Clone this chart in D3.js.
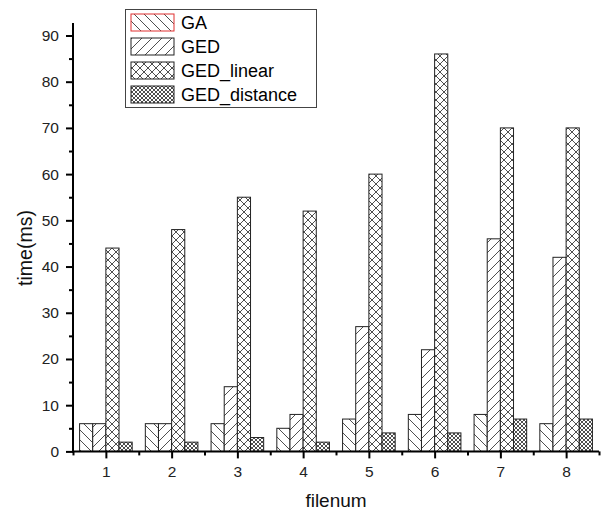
<!DOCTYPE html>
<html>
<head>
<meta charset="utf-8">
<script src="https://cdn.jsdelivr.net/npm/d3@7"></script>
<style>
  body { margin: 0; background: #fff; }
  svg text { font-family: Arial, "Liberation Sans", sans-serif; }
</style>
</head>
<body>
<svg id="chart" width="601" height="512"></svg>
<script>
// Data
const files = [1, 2, 3, 4, 5, 6, 7, 8];
const seriesNames = ["GA", "GED", "GED_linear", "GED_distance"];
const gaValues = [6, 6, 6, 5, 7, 8, 8, 6];
const gedValues = [6, 6, 14, 8, 27, 22, 46, 42];
const gedLinearValues = [44, 48, 55, 52, 60, 86, 70, 70];
const gedDistanceValues = [2, 2, 3, 2, 4, 4, 7, 7];
const yTicks = [0, 10, 20, 30, 40, 50, 60, 70, 80, 90];

const seriesValues = [gaValues, gedValues, gedLinearValues, gedDistanceValues];

const svg = d3.select("#chart");

const x = d3.scaleLinear().domain([0.5, 8.5]).range([73, 599]);
const y = d3.scaleLinear().domain([0, 92.7]).range([451.4, 23]);

// bars inside a group: 4 bars across 0.8 of a unit
const sub = d3.scaleBand()
  .domain(seriesNames)
  .range([x(0.6) - x(1), x(1.4) - x(1)]);

// hatch patterns
const defs = svg.append("defs");

function hatch(id, spacing, angles) {
  const p = defs.append("pattern")
    .attr("id", id)
    .attr("patternUnits", "userSpaceOnUse")
    .attr("width", spacing)
    .attr("height", spacing);
  p.append("rect").attr("width", spacing).attr("height", spacing).attr("fill", "#fff");
  angles.forEach(a => {
    if (a === "back") {
      p.append("path").attr("d", `M0,0L${spacing},${spacing}M${-spacing},0L${spacing},${2 * spacing}M0,${-spacing}L${2 * spacing},${spacing}`);
    } else {
      p.append("path").attr("d", `M0,${spacing}L${spacing},0M${-spacing},${spacing}L${spacing},${-spacing}M0,${2 * spacing}L${2 * spacing},0`);
    }
  });
  p.selectAll("path")
    .attr("stroke", "#222")
    .attr("stroke-width", 0.8)
    .attr("fill", "none");
}

hatch("pat-ga", 10, ["back"]);
hatch("pat-ged", 10, ["fwd"]);
hatch("pat-linear", 8, ["back", "fwd"]);
hatch("pat-dist", 4, ["back", "fwd"]);

const patterns = ["url(#pat-ga)", "url(#pat-ged)", "url(#pat-linear)", "url(#pat-dist)"];

// bars
seriesNames.forEach((name, si) => {
  svg.append("g")
    .selectAll("rect")
    .data(files.map((f, i) => ({ f, v: seriesValues[si][i] })))
    .join("rect")
    .attr("x", d => x(d.f) + sub(name))
    .attr("y", d => y(d.v))
    .attr("width", sub.bandwidth())
    .attr("height", d => y(0) - y(d.v))
    .attr("fill", patterns[si])
    .attr("stroke", "#222")
    .attr("stroke-width", 1);
});

// y axis
const yAxis = svg.append("g").attr("transform", `translate(${x(0.5)},0)`);
yAxis.call(d3.axisLeft(y).tickValues(yTicks).tickSize(7).tickPadding(7))
  .call(g => g.select(".domain").remove());
yAxis.append("g")
  .call(d3.axisLeft(y).tickValues(d3.range(5, 95, 10)).tickSize(4).tickFormat(""))
  .call(g => g.select(".domain").remove());
yAxis.selectAll("line").attr("stroke", "#000").attr("stroke-width", 2);
yAxis.selectAll("text").attr("font-size", 15.5).attr("fill", "#222");
yAxis.append("line")
  .attr("y1", y(92.7)).attr("y2", y(0) + 1)
  .attr("stroke", "#000").attr("stroke-width", 2);

// x axis
const xAxis = svg.append("g").attr("transform", `translate(0,${y(0)})`);
xAxis.call(d3.axisBottom(x).tickValues(files).tickSize(7).tickPadding(8).tickFormat(d3.format("d")))
  .call(g => g.select(".domain").remove());
xAxis.append("g")
  .call(d3.axisBottom(x).tickValues(d3.range(0.5, 9, 1)).tickSize(4).tickFormat(""))
  .call(g => g.select(".domain").remove());
xAxis.selectAll("line").attr("stroke", "#000").attr("stroke-width", 2);
xAxis.selectAll("text").attr("font-size", 15.5).attr("fill", "#222");
xAxis.append("line")
  .attr("x1", x(0.5) - 1).attr("x2", x(8.5))
  .attr("stroke", "#000").attr("stroke-width", 2);

// axis titles
svg.append("text")
  .attr("transform", `translate(32,248) rotate(-90)`)
  .attr("text-anchor", "middle")
  .attr("font-size", 19.5)
  .attr("fill", "#111")
  .text("time(ms)");

svg.append("text")
  .attr("x", 336)
  .attr("y", 507)
  .attr("text-anchor", "middle")
  .attr("font-size", 19)
  .attr("fill", "#111")
  .text("filenum");

// legend
const legend = svg.append("g");
legend.append("rect")
  .attr("x", 125.5).attr("y", 9.5)
  .attr("width", 191).attr("height", 98)
  .attr("fill", "#fff").attr("stroke", "#444").attr("stroke-width", 1);

seriesNames.forEach((name, i) => {
  const ry = 14 + i * 24;
  legend.append("rect")
    .attr("x", 131).attr("y", ry)
    .attr("width", 43).attr("height", 17)
    .attr("fill", patterns[i])
    .attr("stroke", i === 0 ? "#e03030" : "#222")
    .attr("stroke-width", 1);
  legend.append("text")
    .attr("x", 181).attr("y", ry + 15)
    .attr("font-size", 18)
    .attr("fill", "#000")
    .text(name);
});
</script>
</body>
</html>
